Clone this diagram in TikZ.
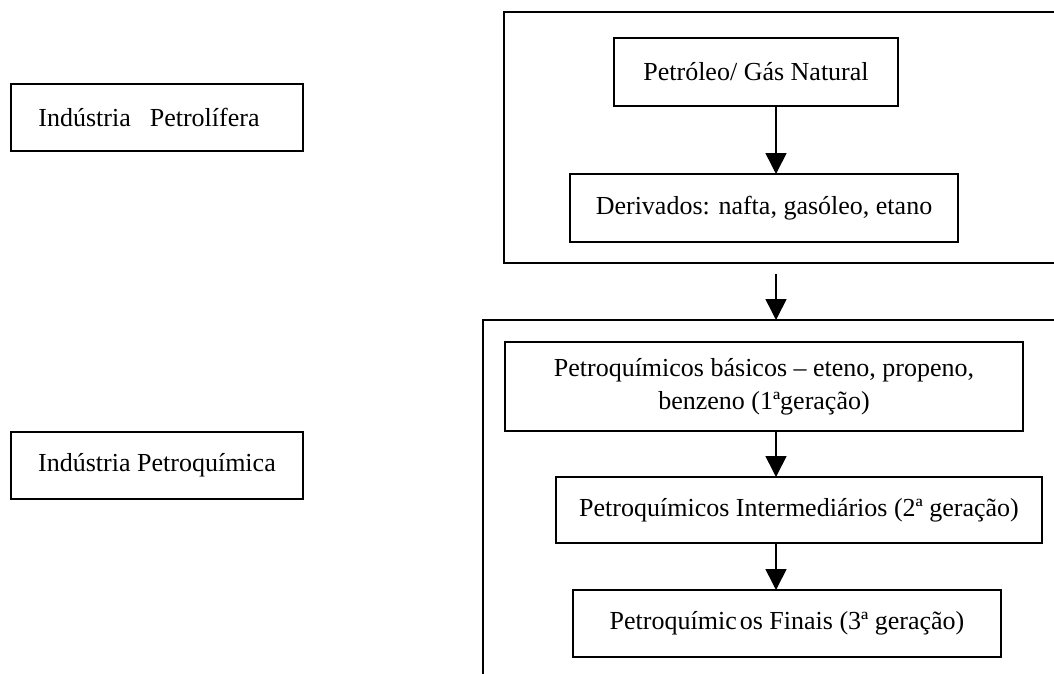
\documentclass[tikz,border=0pt]{standalone}
\usepackage{fontspec}
\setmainfont{Liberation Serif}
\usetikzlibrary{arrows.meta}
\tikzset{
  box/.style={draw, line width=1.6pt, rectangle, inner sep=0pt, outer sep=0pt, font=\fontsize{26}{33}\selectfont, align=center},
  frame/.style={draw, line width=1.6pt, rectangle, inner sep=0pt, outer sep=0pt},
  arr/.style={line width=1.6pt, -{Triangle[width=21pt,length=21pt]}}
}
\begin{document}
\begin{tikzpicture}[x=1pt,y=-1pt]
\useasboundingbox (0,0) rectangle (1054,674);
\clip (0,0) rectangle (1054,674);
\fill[white] (0,0) rectangle (1054,674);
% left labels
\node[box, minimum width=292pt, minimum height=67pt] (ipf) at (157,117.5) {Indústria\hspace{19pt}Petrolífera\hspace{16pt}};
\node[box, minimum width=292pt, minimum height=67pt] (ipq) at (157,465.5) {Indústria Petroquímica};
% big frames
\node[frame, minimum width=600pt, minimum height=251pt] (upper) at (804,137.5) {};
\node[frame, minimum width=620pt, minimum height=400pt] (lower) at (793,520) {};
% inner boxes
\node[box, minimum width=284pt, minimum height=68pt] (pet) at (756,72) {Petróleo/ Gás Natural};
\node[box, minimum width=388pt, minimum height=68pt] (der) at (764,208) {Derivados: nafta, gasóleo, etano};
\node[box, minimum width=518pt, minimum height=89pt] (bas) at (764,386.5) {Petroquímicos básicos -- eteno, propeno,\\benzeno (1ªgeração)};
\node[box, minimum width=486pt, minimum height=66pt] (int) at (799,510) {Petroquímicos Intermediários (2ª geração)};
\node[box, minimum width=428pt, minimum height=67pt] (fin) at (787,623.5) {Petroquímic\hspace{3pt}os Finais (3ª geração)};
% connectors
\coordinate (ax) at (776,0);
\coordinate (mid) at (776,274);
\draw[arr] (ax |- pet.south) -- (ax |- der.north);
\draw[arr] (mid) -- (mid |- lower.north);
\draw[arr] (ax |- bas.south) -- (ax |- int.north);
\draw[arr] (ax |- int.south) -- (ax |- fin.north);
\end{tikzpicture}
\end{document}
